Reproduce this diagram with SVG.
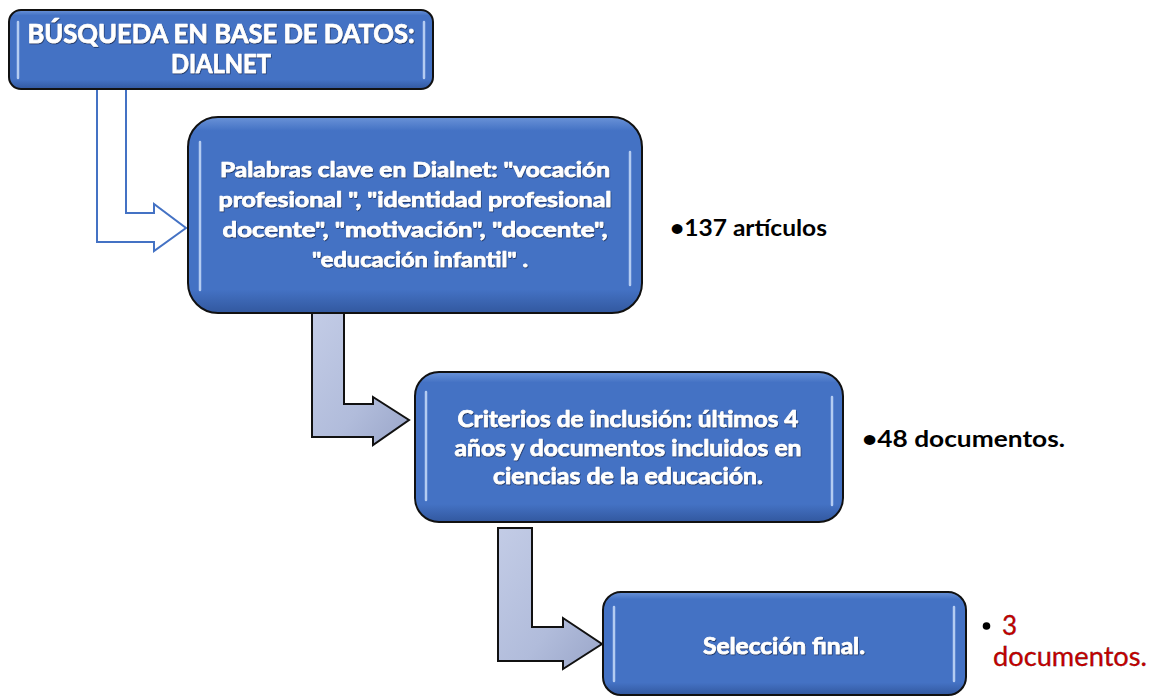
<svg xmlns="http://www.w3.org/2000/svg" width="1154" height="696" viewBox="0 0 1154 696">
  <defs>
    <linearGradient id="boxFill" x1="0" y1="0" x2="0" y2="1">
      <stop offset="0" stop-color="#6a93d8"/>
      <stop offset="0.07" stop-color="#4472c4"/>
      <stop offset="0.88" stop-color="#4472c4"/>
      <stop offset="1" stop-color="#32589f"/>
    </linearGradient>
    <linearGradient id="arrowFill" x1="0" y1="0" x2="1" y2="1">
      <stop offset="0" stop-color="#c3cce6"/>
      <stop offset="0.6" stop-color="#b1bcdb"/>
      <stop offset="1" stop-color="#9aa6c9"/>
    </linearGradient>
    <filter id="txtShadow" x="-5%" y="-20%" width="110%" height="140%">
      <feDropShadow dx="0.6" dy="0.9" stdDeviation="0.7" flood-color="#14284f" flood-opacity="0.9"/>
    </filter>
  </defs>
  <style>
    .box { fill: url(#boxFill); stroke: #111111; stroke-width: 2; }
    .hl { stroke: #c8dcfa; stroke-width: 2.5; stroke-linecap: round; opacity: 0.85; }
    .btxt { font-family: Lato, "Open Sans", "Liberation Sans", sans-serif; font-weight: bold; fill: #ffffff; text-anchor: middle; stroke: #ffffff; stroke-width: 0.7; stroke-linejoin: round; filter: url(#txtShadow); }
    .side { font-family: Lato, "Open Sans", "Liberation Sans", sans-serif; font-weight: bold; fill: #000000; font-size: 22px; }
    .red { font-family: Lato, "Open Sans", "Liberation Sans", sans-serif; font-weight: normal; fill: #c00000; stroke: #000000; stroke-width: 0.3; paint-order: stroke; font-size: 26px; }
    .outArrow { fill: #ffffff; stroke: #4472c4; stroke-width: 2; stroke-linejoin: miter; }
    .solidArrow { fill: url(#arrowFill); stroke: #111111; stroke-width: 2; stroke-linejoin: miter; }
  </style>

  <g id="connectors">
    <path class="outArrow" d="M97,88 L97,242 L154,242 L154,251 L186,228 L154,204 L154,213 L126,213 L126,88"/>
    <path class="solidArrow" d="M312,312 L312,437 L373,437 L373,445 L409,420 L373,397 L373,404 L344,404 L344,312 Z"/>
    <path class="solidArrow" d="M498,528 L498,661 L563,661 L563,669 L602,644 L563,618 L563,627 L532,627 L532,528 Z"/>
  </g>

  <g id="node-busqueda">
    <rect class="box" x="9" y="10" width="424" height="79" rx="12" ry="12"/>
    <line class="hl" x1="18" y1="22" x2="18" y2="78"/>
    <line class="hl" x1="424" y1="22" x2="424" y2="78"/>
    <text class="btxt" font-size="27" x="221" y="43" textLength="387" lengthAdjust="spacingAndGlyphs">BÚSQUEDA EN BASE DE DATOS:</text>
    <text class="btxt" font-size="27" x="221" y="73" textLength="100" lengthAdjust="spacingAndGlyphs">DIALNET</text>
  </g>

  <g id="node-palabras">
    <rect class="box" x="188" y="117" width="454" height="196" rx="30" ry="30"/>
    <line class="hl" x1="200" y1="142" x2="200" y2="290"/>
    <line class="hl" x1="630" y1="152" x2="630" y2="285"/>
    <text class="btxt" font-size="21" x="415" y="177" textLength="390" lengthAdjust="spacingAndGlyphs">Palabras clave en Dialnet: "vocación</text>
    <text class="btxt" font-size="21" x="415" y="207" textLength="393" lengthAdjust="spacingAndGlyphs">profesional ", "identidad profesional</text>
    <text class="btxt" font-size="21" x="415" y="237" textLength="385" lengthAdjust="spacingAndGlyphs">docente", "motivación", "docente",</text>
    <text class="btxt" font-size="21" x="420" y="267" textLength="216" lengthAdjust="spacingAndGlyphs">"educación infantil" .</text>
  </g>

  <g id="node-criterios">
    <rect class="box" x="415" y="372" width="428" height="150" rx="24" ry="24"/>
    <line class="hl" x1="426" y1="392" x2="426" y2="500"/>
    <line class="hl" x1="832" y1="397" x2="832" y2="505"/>
    <text class="btxt" font-size="22" x="628" y="427" textLength="341" lengthAdjust="spacingAndGlyphs">Criterios de inclusión: últimos 4</text>
    <text class="btxt" font-size="22" x="628" y="456" textLength="347" lengthAdjust="spacingAndGlyphs">años y documentos incluidos en</text>
    <text class="btxt" font-size="22" x="628" y="484" textLength="270" lengthAdjust="spacingAndGlyphs">ciencias de la educación.</text>
  </g>

  <g id="node-seleccion">
    <rect class="box" x="603" y="592" width="363" height="103" rx="18" ry="18"/>
    <line class="hl" x1="614" y1="607" x2="614" y2="681"/>
    <line class="hl" x1="954" y1="607" x2="954" y2="681"/>
    <text class="btxt" font-size="22" x="784" y="654" textLength="162" lengthAdjust="spacingAndGlyphs">Selección final.</text>
  </g>

  <g id="label-137">
    <text class="side" x="670" y="236" textLength="157" lengthAdjust="spacingAndGlyphs">•137 artículos</text>
  </g>
  <g id="label-48">
    <text class="side" x="862" y="447" textLength="203" lengthAdjust="spacingAndGlyphs">•48 documentos.</text>
  </g>
  <g id="label-3">
    <circle cx="986.5" cy="626" r="3.8" fill="#000000"/>
    <text class="red" x="1002" y="635">3</text>
    <text class="red" x="993" y="666" textLength="154" lengthAdjust="spacingAndGlyphs">documentos.</text>
  </g>
</svg>
